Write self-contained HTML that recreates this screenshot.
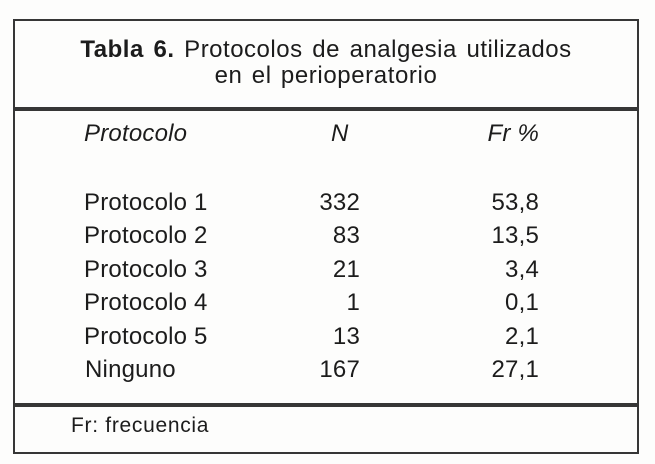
<!DOCTYPE html>
<html>
<head>
<meta charset="utf-8">
<style>
  html, body { margin:0; padding:0; }
  body { width:655px; height:464px; background:#fdfdfc; position:relative; overflow:hidden;
         font-family:"Liberation Sans", Arial, sans-serif; color:#1c1c1c; }
  .box { position:absolute; left:13px; top:19px; width:622px; height:431px;
         border:2px solid #363636; }
  .thick { position:absolute; left:13px; width:626px; background:#363636; }
  .t { position:absolute; white-space:nowrap; line-height:1; }
  .title { font-size:24px; left:13px; width:626px; text-align:center; }
  .row { font-size:24px; letter-spacing:0.2px; }
  .it { font-style:italic; }
  .r1 { right:295px; text-align:right; }
  .r2 { right:116px; text-align:right; }
</style>
</head>
<body>
  <div class="box"></div>
  <div class="thick" style="top:107px;height:4px;"></div>
  <div class="thick" style="top:403px;height:4px;"></div>

  <div class="t title" style="top:38px;letter-spacing:0.5px;word-spacing:2.5px;"><b>Tabla 6.</b> Protocolos de analgesia utilizados</div>
  <div class="t title" style="top:64px;letter-spacing:0.6px;word-spacing:2px;">en el perioperatorio</div>

  <div class="t row it" style="left:84px;top:122px;">Protocolo</div>
  <div class="t row it" style="left:331px;top:122px;">N</div>
  <div class="t row it r2" style="top:122px;">Fr %</div>

  <div class="t row" style="left:84px;top:190.5px;">Protocolo 1</div>
  <div class="t row r1" style="top:190.5px;">332</div>
  <div class="t row r2" style="top:190.5px;">53,8</div>

  <div class="t row" style="left:84px;top:224px;">Protocolo 2</div>
  <div class="t row r1" style="top:224px;">83</div>
  <div class="t row r2" style="top:224px;">13,5</div>

  <div class="t row" style="left:84px;top:257.5px;">Protocolo 3</div>
  <div class="t row r1" style="top:257.5px;">21</div>
  <div class="t row r2" style="top:257.5px;">3,4</div>

  <div class="t row" style="left:84px;top:291px;">Protocolo 4</div>
  <div class="t row r1" style="top:291px;">1</div>
  <div class="t row r2" style="top:291px;">0,1</div>

  <div class="t row" style="left:84px;top:324.5px;">Protocolo 5</div>
  <div class="t row r1" style="top:324.5px;">13</div>
  <div class="t row r2" style="top:324.5px;">2,1</div>

  <div class="t row" style="left:85px;top:358px;">Ninguno</div>
  <div class="t row r1" style="top:358px;">167</div>
  <div class="t row r2" style="top:358px;">27,1</div>

  <div class="t" style="left:71px;top:415px;font-size:21px;letter-spacing:0.7px;">Fr: frecuencia</div>
</body>
</html>
